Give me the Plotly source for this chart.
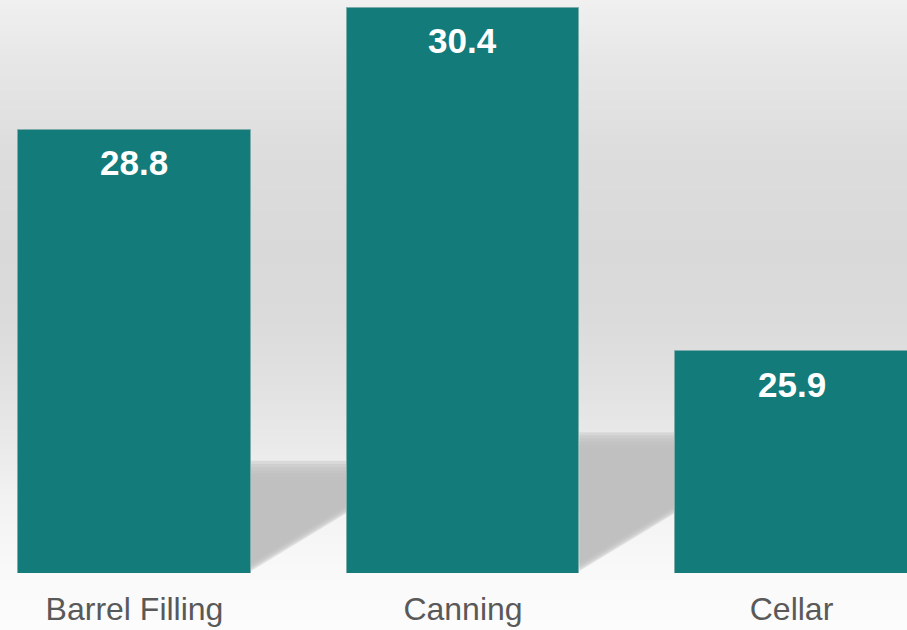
import plotly.graph_objects as go

categories = ["Barrel Filling", "Canning", "Cellar"]
values = [28.8, 30.4, 25.9]
value_labels = ["28.8", "30.4", "25.9"]

BAR_COLOR = "#137b7a"
Y_MIN, Y_MAX = 23, 30.5
X_RANGE = [-0.4094, 2.3516]
BAR_W = 0.709
W, H = 907, 630
MB = 57
PLOT_H = H - MB
PX_Y = PLOT_H / (Y_MAX - Y_MIN)

xs = list(range(len(categories)))

fig = go.Figure()
fig.add_trace(go.Bar(
    x=xs, y=values, width=BAR_W,
    marker=dict(color=BAR_COLOR, line=dict(color="#7fabab", width=1)),
    hoverinfo="skip", showlegend=False,
))

shapes = []
# background vertical gradient (pixel stops -> gray level)
stops = [(0, 240), (60, 231), (150, 221), (250, 217), (320, 219), (380, 225),
         (440, 233), (500, 242), (570, 249), (630, 252)]

def gray_at(p):
    for (p0, g0), (p1, g1) in zip(stops, stops[1:]):
        if p0 <= p <= p1:
            return g0 + (g1 - g0) * (p - p0) / (p1 - p0)
    return stops[-1][1]

band = 5
for p in range(0, H, band):
    g = round(gray_at(p + band / 2))
    y1 = 1 - p / PLOT_H
    y0 = 1 - (p + band + 1) / PLOT_H
    shapes.append(dict(type="rect", xref="paper", yref="paper", x0=0, x1=1,
                       y0=y0, y1=y1, fillcolor=f"rgb({g},{g},{g})",
                       line=dict(width=0), layer="below"))

# soft floor shadows between neighbouring bars
n_layers = 6
for i in range(len(values) - 1):
    xl = xs[i] + BAR_W / 2
    xr = xs[i + 1] - BAR_W / 2
    top = Y_MIN + 0.235 * (values[i] - Y_MIN)
    bl = Y_MIN + 6 / PX_Y
    br = Y_MIN + 64 / PX_Y
    for j in range(n_layers):
        off = (j - (n_layers - 1) / 2)
        t = top + off * 3.2 / PX_Y
        d = -off * 1.6 / PX_Y
        path = (f"M {xl},{t} L {xr},{t} L {xr},{br + d} L {xl},{bl + d} Z")
        shapes.append(dict(type="path", xref="x", yref="y", path=path,
                           fillcolor="rgb(191,191,191)", opacity=0.4,
                           line=dict(width=0), layer="below"))

annotations = []
for x, v, lab in zip(xs, values, value_labels):
    annotations.append(dict(
        x=x, y=v, xref="x", yref="y", text=f"<b>{lab}</b>", showarrow=False,
        yanchor="middle", yshift=-33,
        font=dict(family="Liberation Sans, Arial, sans-serif", size=35, color="white"),
    ))

fig.update_layout(
    width=W, height=H,
    margin=dict(l=0, r=0, t=0, b=MB),
    paper_bgcolor="white",
    plot_bgcolor="rgba(0,0,0,0)",
    shapes=shapes,
    annotations=annotations,
    bargap=0,
    xaxis=dict(range=X_RANGE, tickvals=xs, ticktext=categories, showgrid=False,
               zeroline=False, showline=False, ticks="", ticklabelstandoff=14,
               tickfont=dict(family="Liberation Sans, Arial, sans-serif", size=32,
                             color="#595959")),
    yaxis=dict(range=[Y_MIN, Y_MAX], visible=False, showgrid=False, zeroline=False),
)

fig.write_html("out.html")
